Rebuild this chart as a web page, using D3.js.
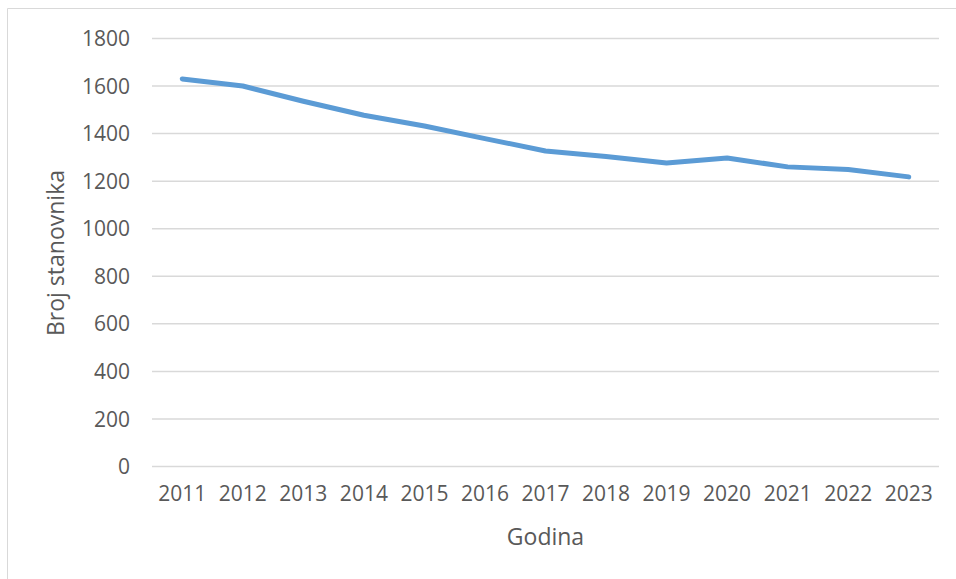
<!DOCTYPE html>
<html>
<head>
<meta charset="utf-8">
<script src="https://cdn.jsdelivr.net/npm/d3@7"></script>
<style>
  body { margin: 0; background: #fff; }
  text { font-family: "Open Sans", sans-serif; fill: #595959; }
</style>
</head>
<body>
<div id="chart"></div>
<script>
// data
var years = ["2011", "2012", "2013", "2014", "2015", "2016", "2017", "2018", "2019", "2020", "2021", "2022", "2023"];
var population = [1628, 1598, 1534, 1475, 1430, 1377, 1325, 1302, 1274, 1295, 1258, 1247, 1216];
var yTicks = [0, 200, 400, 600, 800, 1000, 1200, 1400, 1600, 1800];

var w = 956, h = 579;
var margin = { top: 38, right: 17, bottom: 113, left: 152 };
var width = w - margin.left - margin.right;
var height = h - margin.top - margin.bottom;

var svg = d3.select("#chart")
  .append("svg")
  .attr("width", w)
  .attr("height", h);

// chart frame (only top and left edges show)
svg.append("line")
  .attr("x1", 7.5).attr("x2", w).attr("y1", 8.5).attr("y2", 8.5)
  .attr("stroke", "#d9d9d9").attr("stroke-width", 1);
svg.append("line")
  .attr("x1", 7.5).attr("x2", 7.5).attr("y1", 8.5).attr("y2", h)
  .attr("stroke", "#d9d9d9").attr("stroke-width", 1);

var chartGroup = svg.append("g")
  .attr("transform", `translate(${margin.left}, ${margin.top})`);

var xScale = d3.scaleBand()
  .domain(years)
  .range([0, width]);

var yScale = d3.scaleLinear()
  .domain([0, 1800])
  .range([height, 0]);

// gridlines + y labels
var leftAxis = d3.axisLeft(yScale)
  .tickValues(yTicks)
  .tickFormat(d3.format("d"))
  .tickSize(-width)
  .tickPadding(22);

var yAxis = chartGroup.append("g").call(leftAxis);
yAxis.select(".domain").remove();
yAxis.selectAll(".tick line")
  .attr("stroke", "#d9d9d9")
  .attr("stroke-width", 1.5);
yAxis.selectAll(".tick text")
  .attr("font-size", 21)
  .attr("dy", "0.36em");

// x labels
var bottomAxis = d3.axisBottom(xScale)
  .tickSize(0)
  .tickPadding(20);

var xAxis = chartGroup.append("g")
  .attr("transform", `translate(0, ${height})`)
  .call(bottomAxis);
xAxis.select(".domain").remove();
xAxis.selectAll(".tick text")
  .attr("font-size", 21);

// axis titles
chartGroup.append("text")
  .attr("x", width / 2)
  .attr("y", height + 79)
  .attr("text-anchor", "middle")
  .attr("font-size", 23)
  .text("Godina");

chartGroup.append("text")
  .attr("transform", "rotate(-90)")
  .attr("x", -(height / 2) - 1)
  .attr("y", -88)
  .attr("text-anchor", "middle")
  .attr("font-size", 23)
  .text("Broj stanovnika");

// line
var line = d3.line()
  .x((d, i) => xScale(years[i]) + xScale.bandwidth() / 2)
  .y(d => yScale(d));

chartGroup.append("path")
  .datum(population)
  .attr("d", line)
  .attr("fill", "none")
  .attr("stroke", "#5b9bd5")
  .attr("stroke-width", 5)
  .attr("stroke-linecap", "round")
  .attr("stroke-linejoin", "round");
</script>
</body>
</html>
